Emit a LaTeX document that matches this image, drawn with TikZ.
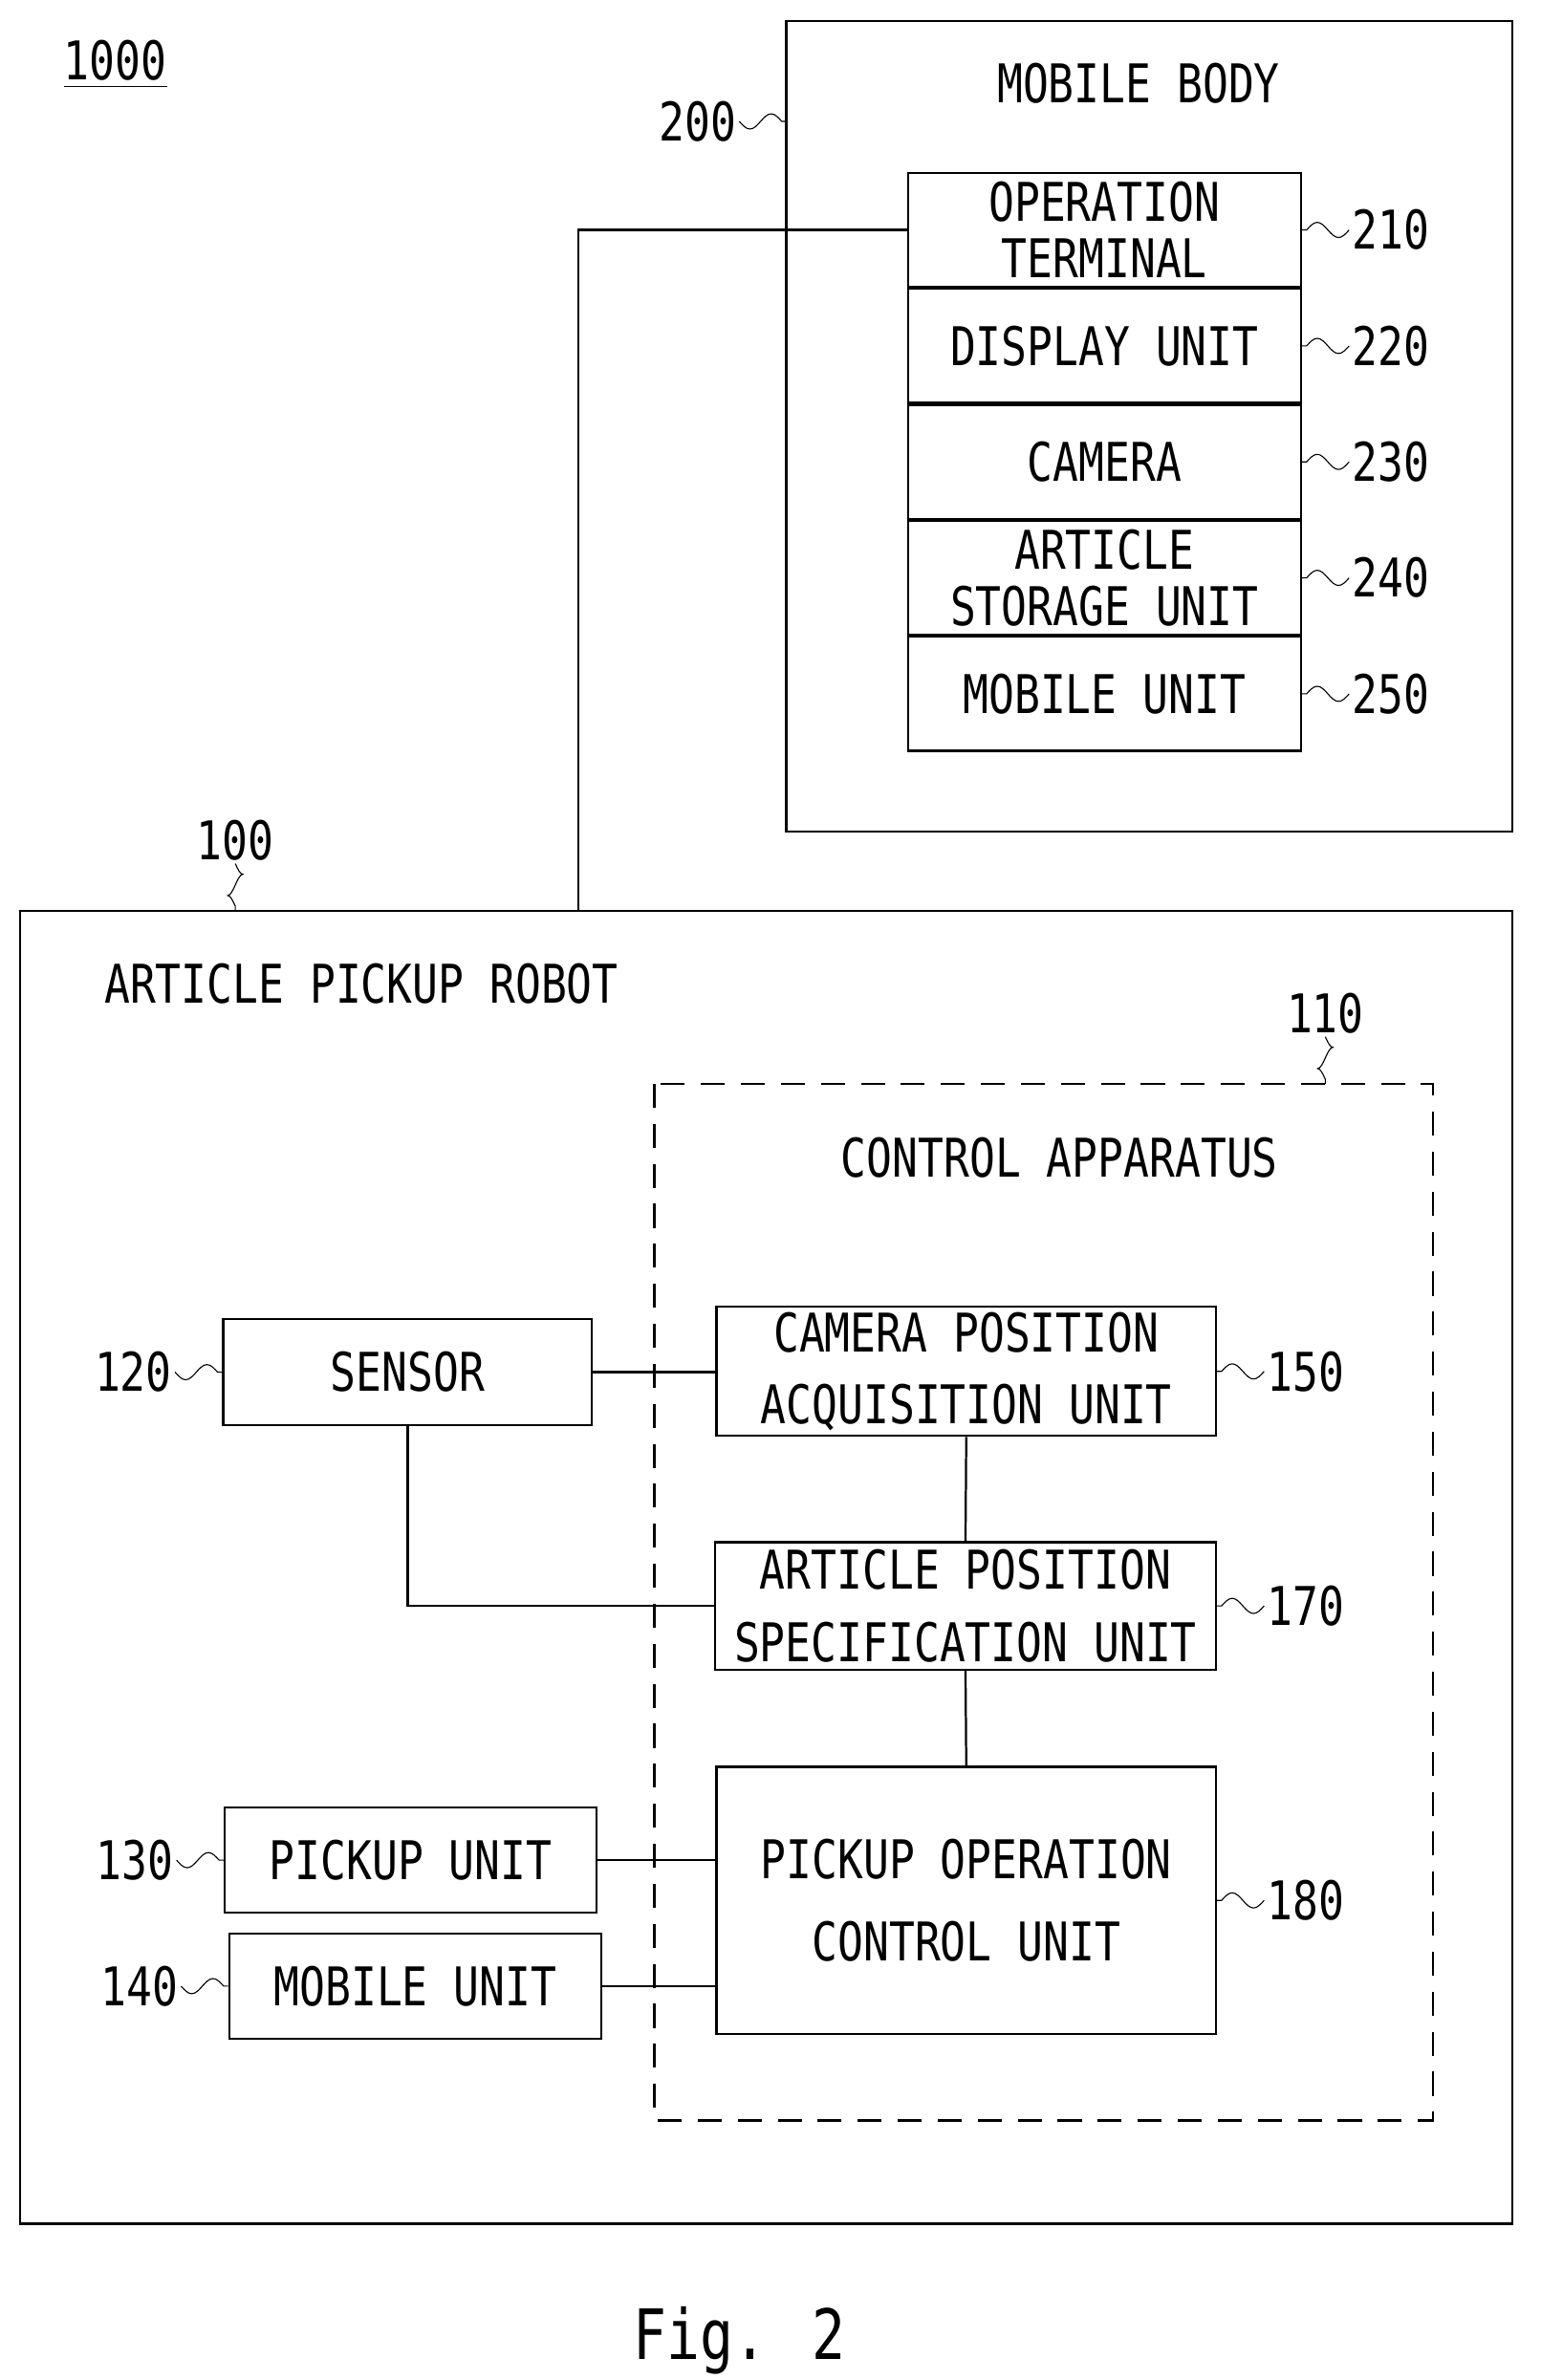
\documentclass[tikz,border=0pt]{standalone}
\usepackage{fontspec}
\setmainfont{DejaVu Sans Mono}[FakeStretch=0.8]
\usetikzlibrary{positioning}
\tikzset{
  box/.style={draw, thick, rectangle, inner sep=0pt, align=center, font=\fontsize{20}{25}\selectfont},
  txt/.style={font=\fontsize{20}{25}\selectfont, inner sep=1pt},
  wire/.style={thick},
  squig/.style={thin}
}
% squiggle to a reference label, right / left of a box
\newcommand{\refR}[3]{\draw[squig] (#1) -- ++(3,0) sin ++(7,-5) cos ++(7,5) sin ++(7,5) cos ++(7,-5) node[txt,right] (#2) {#3};}
\newcommand{\refL}[3]{\draw[squig] (#1) -- ++(-3,0) sin ++(-7,-5) cos ++(-7,5) sin ++(-7,5) cos ++(-7,-5) node[txt,left] (#2) {#3};}
\newcommand{\refU}[3]{\draw[squig] (#1) -- ++(0,-3) sin ++(-5,-7) cos ++(5,-7) sin ++(5,-7) cos ++(-5,-7) node[txt,above] (#2) {#3};}
\begin{document}
\begin{tikzpicture}[x=0.02cm, y=-0.02cm]
\useasboundingbox (0,0) rectangle (1015,1568);

% Mobile body
\node[txt] (n1000) at (76,40) {1000};
\draw[thin] (42,57) -- (110,57);
\draw[thick] (518,14) rectangle (996,548);
\coordinate (mb) at (518,80);
\node[txt] (tmb) at (750,55) {MOBILE BODY};
\refL{mb}{l200}{200}

\node[box, minimum width=259*0.02cm, minimum height=75*0.02cm] (b210) at (727.5,151.5) {OPERATION\\[-4pt]TERMINAL};
\node[box, minimum width=259*0.02cm, minimum height=75*0.02cm, below=0pt of b210] (b220) {DISPLAY UNIT};
\node[box, minimum width=259*0.02cm, minimum height=75*0.02cm, below=0pt of b220] (b230) {CAMERA};
\node[box, minimum width=259*0.02cm, minimum height=75*0.02cm, below=0pt of b230] (b240) {ARTICLE\\[-4pt]STORAGE UNIT};
\node[box, minimum width=259*0.02cm, minimum height=75*0.02cm, below=0pt of b240] (b250) {MOBILE UNIT};
\refR{b210.east}{l210}{210}
\refR{b220.east}{l220}{220}
\refR{b230.east}{l230}{230}
\refR{b240.east}{l240}{240}
\refR{b250.east}{l250}{250}

% Article pickup robot
\draw[thick] (13,600) rectangle (996,1465);
\coordinate (rb) at (155,600);
\refU{rb}{l100}{100}
\node[txt] (trb) at (238,648) {ARTICLE PICKUP ROBOT};
\coordinate (rtop) at (381,600);
\draw[wire] (b210.west) -| (rtop);

% Control apparatus
\draw[thick, dash pattern=on 9pt off 6pt] (431,714) rectangle (944,1397);
\coordinate (ca) at (873,714);
\refU{ca}{l110}{110}
\node[txt] (tca) at (698,763) {CONTROL APPARATUS};

\node[box, minimum width=329*0.02cm, minimum height=85*0.02cm] (b150) at (636.5,903.5) {CAMERA POSITION\\[2pt]ACQUISITION UNIT};
\node[box, minimum width=330*0.02cm, minimum height=84*0.02cm] (b170) at (636,1058) {ARTICLE POSITION\\[2pt]SPECIFICATION UNIT};
\node[box, minimum width=329*0.02cm, minimum height=176*0.02cm] (b180) at (636.5,1252) {PICKUP OPERATION\\[6pt]CONTROL UNIT};
\refR{b150.east}{l150}{150}
\refR{b170.east}{l170}{170}
\refR{b180.east}{l180}{180}

\node[box, minimum width=243*0.02cm, minimum height=70*0.02cm] (b120) at (268.5,904) {SENSOR};
\node[box, minimum width=245*0.02cm, minimum height=69*0.02cm] (b130) at (270.5,1225.5) {PICKUP UNIT};
\node[box, minimum width=245*0.02cm, minimum height=69*0.02cm] (b140) at (273.5,1308.5) {MOBILE UNIT};
\refL{b120.west}{l120}{120}
\refL{b130.west}{l130}{130}
\refL{b140.west}{l140}{140}

% Connections
\draw[wire] (b120.east) -- (b120.east -| b150.west);
\draw[wire] (b150.south) -- (b170.north);
\draw[wire] (b170.south) -- (b180.north);
\draw[wire] (b120.south) |- (b170.west);
\draw[wire] (b130.east) -- (b130.east -| b180.west);
\draw[wire] (b140.east) -- (b140.east -| b180.west);

\node[font=\fontsize{26}{30}\selectfont] (fig) at (487,1542) {Fig. 2};
\end{tikzpicture}
\end{document}
